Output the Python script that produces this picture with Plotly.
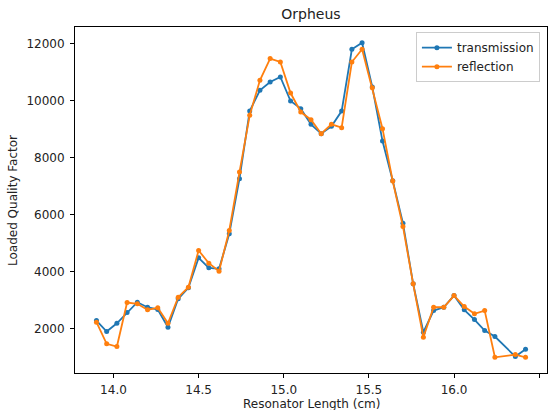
import plotly.graph_objects as go

length_cm = [13.90, 13.96, 14.02, 14.08, 14.14, 14.20, 14.26, 14.32, 14.38, 14.44,
             14.50, 14.56, 14.62, 14.68, 14.74, 14.80, 14.86, 14.92, 14.98, 15.04,
             15.10, 15.16, 15.22, 15.28, 15.34, 15.40, 15.46, 15.52, 15.58, 15.64,
             15.70, 15.76, 15.82, 15.88, 15.94, 16.00, 16.06, 16.12, 16.18, 16.24,
             16.36, 16.42]

transmission = [2290, 1905, 2196, 2572, 2933, 2758, 2677, 2056, 3053, 3439,
                4491, 4140, 4105, 5333, 7263, 9635, 10361, 10653, 10828, 9986,
                9719, 9168, 8842, 9098, 9635, 11800, 12030, 10477, 8582, 7190,
                5705, 3579, 1881, 2642, 2758, 3168, 2667, 2326, 1940, 1730,
                1028, 1284]

reflection = [2232, 1474, 1379, 2923, 2877, 2667, 2737, 2196, 3109, 3460,
              4747, 4302, 4021, 5449, 7495, 9484, 10712, 11474, 11354, 10267,
              9600, 9333, 8842, 9168, 9052, 11354, 11800, 10456, 9017, 7179,
              5590, 3579, 1705, 2758, 2758, 3168, 2782, 2526, 2642, 1004,
              1098, 1004]

x_ticks = [14.0, 14.5, 15.0, 15.5, 16.0, 16.5]
y_ticks = [2000, 4000, 6000, 8000, 10000, 12000]

FONT = "DejaVu Sans"
W, H = 552, 410
ML, MR, MT, MB = 75, 5, 27, 37
PW, PH = W - ML - MR, H - MT - MB

fig = go.Figure()
fig.add_trace(go.Scatter(x=length_cm, y=transmission, mode="lines+markers",
                         name="transmission",
                         line=dict(color="#1f77b4", width=1.8),
                         marker=dict(color="#1f77b4", size=5)))
fig.add_trace(go.Scatter(x=length_cm, y=reflection, mode="lines+markers",
                         name="reflection",
                         line=dict(color="#ff7f0e", width=1.8),
                         marker=dict(color="#ff7f0e", size=5)))

xmin, xmax = min(length_cm), max(length_cm)
allv = transmission + reflection
ymin, ymax = min(allv), max(allv)
dx = (xmax - xmin) * 0.05
dy = (ymax - ymin) * 0.05

axis_common = dict(showgrid=False, zeroline=False, showline=True, linecolor="black",
                   linewidth=1, mirror=True, ticks="outside", ticklen=4,
                   tickcolor="black", tickwidth=1, automargin=False,
                   tickfont=dict(family=FONT, size=12, color="#222"))

fig.update_xaxes(range=[xmin - dx, xmax + dx], tickvals=x_ticks,
                 ticktext=[f"{v:.1f}" for v in x_ticks], ticklabelstandoff=2,
                 **axis_common)
fig.update_yaxes(range=[ymin - dy, ymax + dy], tickvals=y_ticks,
                 ticktext=[str(v) for v in y_ticks], ticklabelstandoff=3,
                 **axis_common)

fig.add_annotation(text="Resonator Length (cm)", xref="paper", yref="paper",
                   x=0.5, y=-(404 - (H - MB)) / PH, xanchor="center", yanchor="middle",
                   showarrow=False, font=dict(family=FONT, size=12, color="#222"))
fig.add_annotation(text="Loaded Quality Factor", xref="paper", yref="paper",
                   x=-(ML - 13) / PW, y=0.5, xanchor="center", yanchor="middle",
                   textangle=-90, showarrow=False,
                   font=dict(family=FONT, size=12, color="#222"))

fig.update_layout(
    width=W, height=H,
    margin=dict(l=ML, r=MR, t=MT, b=MB),
    paper_bgcolor="white", plot_bgcolor="white",
    font=dict(family=FONT, size=12, color="#222"),
    title=dict(text="Orpheus", x=0.5, xref="paper", y=1 - 14 / H,
               yanchor="middle", xanchor="center",
               font=dict(family=FONT, size=14, color="#222")),
    legend=dict(x=0.985, y=0.985, xanchor="right", yanchor="top",
                bgcolor="rgba(255,255,255,0.8)", bordercolor="#cccccc",
                borderwidth=1, font=dict(family=FONT, size=12, color="#222"),
                tracegroupgap=0, itemwidth=30),
    showlegend=True,
)

fig.write_html("out.html")
